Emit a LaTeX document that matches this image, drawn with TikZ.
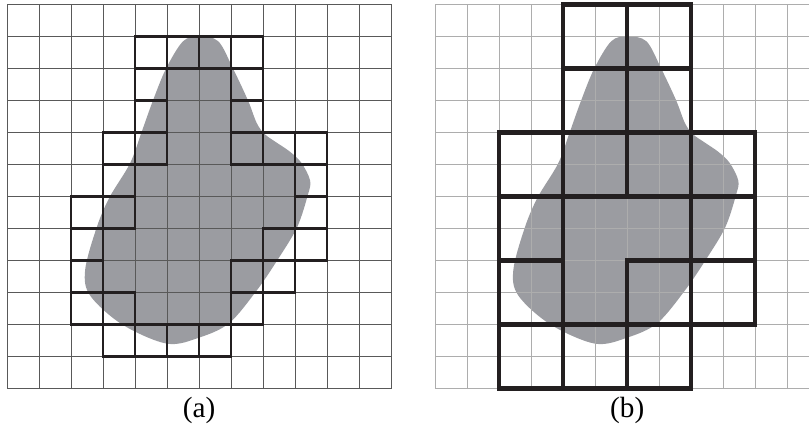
\documentclass[tikz,border=0pt]{standalone}
\usepackage{fontspec}
\setmainfont{Liberation Serif}
\definecolor{blobgray}{RGB}{155,156,161}
\definecolor{inkblack}{RGB}{35,31,32}
\newcommand{\blobfill}{%
  \fill[blobgray] plot[smooth cycle,tension=.55] coordinates {
    (6.0,1.0) (6.6,1.15) (7.06,2.0) (7.53,3.0) (7.8,3.7) (8.05,4.05)
    (8.4,4.3) (8.84,4.6) (9.2,4.95) (9.47,5.5) (9.4,5.95) (9.06,6.97)
    (8.44,8.0) (7.8,8.94) (6.95,9.95) (6.03,10.4) (5.0,10.6) (3.6,10.0)
    (2.6,9.1) (2.44,8.3) (2.8,6.97) (3.2,6.03) (3.84,4.97) (4.2,4.0)
    (4.56,3.0) (4.97,2.0) (5.5,1.15)};}

\begin{document}
\begin{tikzpicture}[x=.5cm,y=.5cm,
  finegrid/.style={draw=black!65,line width=.45pt,step=1},
  faintgrid/.style={draw=black!32,line width=.45pt,step=1},
  cellbox/.style={draw=inkblack,line width=1pt},
  bigbox/.style={draw=inkblack,line width=1.9pt},
  caption/.style={font=\fontsize{13}{15}\selectfont}]
\useasboundingbox (0,0) rectangle (25.28,13.44);

\begin{scope}[shift={(.22,13.3)},yscale=-1]
  \blobfill
  \draw[finegrid] (0,0) grid (12,12);
  \foreach \c/\r in {4/1,5/1,6/1,7/1,4/2,7/2,4/3,7/3,3/4,4/4,7/4,8/4,9/4,
                     3/5,9/5,2/6,3/6,9/6,2/7,8/7,9/7,2/8,7/8,8/8,
                     2/9,3/9,7/9,3/10,4/10,5/10,6/10}
    \draw[cellbox] (\c,\r) rectangle ++(1,1);
\end{scope}

\begin{scope}[shift={(13.6,13.3)},yscale=-1]
  \blobfill
  \draw[faintgrid] (0,0) grid (12,12);
  \foreach \c/\r in {2/0,3/0,2/1,3/1,1/2,2/2,3/2,4/2,1/3,4/3,
                     1/4,3/4,4/4,1/5,2/5,3/5}
    \draw[bigbox] (2*\c,2*\r) rectangle ++(2,2);
\end{scope}

\node[caption] (capa) at (6.22,.62) {(a)};
\node[caption] (capb) at (19.6,.62) {(b)};
\end{tikzpicture}
\end{document}
